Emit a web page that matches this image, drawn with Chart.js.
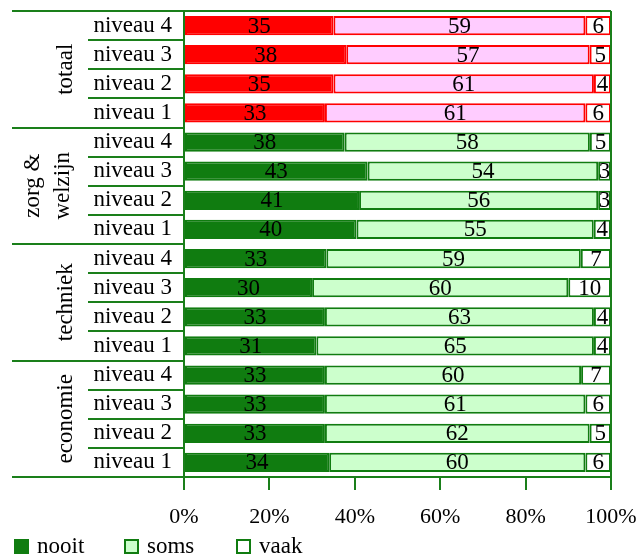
<!DOCTYPE html>
<html>
<head>
<meta charset="utf-8">
<script src="https://cdn.jsdelivr.net/npm/chart.js@4.4.1/dist/chart.umd.min.js"></script>
<style>
  html, body { margin: 0; padding: 0; background: #fff; }
  #wrap { width: 637px; height: 559px; position: relative; }
</style>
</head>
<body>
<div id="wrap"><canvas id="chart"></canvas></div>
<script>
// data
const levels = ["niveau 4", "niveau 3", "niveau 2", "niveau 1",
                "niveau 4", "niveau 3", "niveau 2", "niveau 1",
                "niveau 4", "niveau 3", "niveau 2", "niveau 1",
                "niveau 4", "niveau 3", "niveau 2", "niveau 1"];
const groups = [["totaal"], ["zorg &", "welzijn"], ["techniek"], ["economie"]];
const nooit = [35, 38, 35, 33, 38, 43, 41, 40, 33, 30, 33, 31, 33, 33, 33, 34];
const soms  = [59, 57, 61, 61, 58, 54, 56, 55, 59, 60, 63, 65, 60, 61, 62, 60];
const vaak  = [6, 5, 4, 6, 5, 3, 3, 4, 7, 10, 4, 4, 7, 6, 5, 6];
const seriesNames = ["nooit", "soms", "vaak"];
const xTicks = [0, 20, 40, 60, 80, 100];

const GREEN = "#107c10";
const LINE = "#1a7f1a";
const FONT = "'Liberation Serif', 'Times New Roman', 'DejaVu Serif', serif";

// rows are shown as shares of 100%
const totals = nooit.map((v, i) => v + soms[i] + vaak[i]);
const pct = arr => arr.map((v, i) => v / totals[i] * 100);

const isTotal = i => Math.floor(i / 4) === 0;
const fills = [
  levels.map((_, i) => isTotal(i) ? "#ff0000" : GREEN),
  levels.map((_, i) => isTotal(i) ? "#ffccff" : "#ccffcc"),
  levels.map(() => "#ffffff")
];
const strokes = levels.map((_, i) => isTotal(i) ? "#ff0000" : GREEN);

const raw = [nooit, soms, vaak];

const extras = {
  id: "extras",
  afterDatasetsDraw(chart) {
    const ctx = chart.ctx;
    ctx.save();
    ctx.font = "23px " + FONT;
    ctx.fillStyle = "#000";
    ctx.textAlign = "center";
    ctx.textBaseline = "middle";
    chart.data.datasets.forEach((ds, d) => {
      chart.getDatasetMeta(d).data.forEach((bar, i) => {
        ctx.fillText(String(raw[d][i]), (bar.x + bar.base) / 2, bar.y + 1);
      });
    });
    ctx.restore();
  },
  afterDraw(chart) {
    const ctx = chart.ctx;
    const ya = chart.scales.y;
    const area = chart.chartArea;
    const left = area.left;
    ctx.save();
    ctx.strokeStyle = LINE;
    ctx.lineWidth = 2;
    ctx.beginPath();
    // top border, right border, left part of bottom line
    ctx.moveTo(12, area.top); ctx.lineTo(area.right, area.top);
    ctx.moveTo(area.right, area.top); ctx.lineTo(area.right, area.bottom);
    ctx.moveTo(12, area.bottom); ctx.lineTo(left, area.bottom);
    for (let i = 1; i < levels.length; i++) {
      const y = Math.round((ya.getPixelForValue(i - 1) + ya.getPixelForValue(i)) / 2);
      ctx.moveTo(i % 4 === 0 ? 12 : 88, y);
      ctx.lineTo(left, y);
    }
    ctx.stroke();

    // group labels
    ctx.font = "23px " + FONT;
    ctx.fillStyle = "#000";
    ctx.textAlign = "center";
    ctx.textBaseline = "alphabetic";
    groups.forEach((lines, g) => {
      const yc = (ya.getPixelForValue(g * 4) + ya.getPixelForValue(g * 4 + 3)) / 2;
      const xs = lines.length === 1 ? [72] : [39, 69];
      lines.forEach((t, k) => {
        ctx.save();
        ctx.translate(xs[k], yc);
        ctx.rotate(-Math.PI / 2);
        ctx.fillText(t, 0, 0);
        ctx.restore();
      });
    });

    // legend
    const boxes = [
      { x: 14, fill: GREEN },
      { x: 124, fill: "#ccffcc" },
      { x: 236, fill: "#ffffff" }
    ];
    const ly = 546;
    ctx.textAlign = "left";
    ctx.textBaseline = "middle";
    boxes.forEach((b, k) => {
      ctx.fillStyle = b.fill;
      ctx.fillRect(b.x, ly - 7, 15, 15);
      ctx.strokeStyle = GREEN;
      ctx.lineWidth = 2;
      ctx.strokeRect(b.x + 1, ly - 6, 13, 13);
      ctx.fillStyle = "#000";
      ctx.fillText(seriesNames[k], b.x + 23, ly + 1);
    });
    ctx.restore();
  }
};

new Chart(document.getElementById("chart"), {
  type: "bar",
  data: {
    labels: levels,
    datasets: [pct(nooit), pct(soms), pct(vaak)].map((vals, d) => ({
      label: seriesNames[d],
      data: vals,
      backgroundColor: fills[d],
      borderColor: strokes,
      borderWidth: 2,
      borderSkipped: false,
      categoryPercentage: 1,
      barPercentage: 0.66
    }))
  },
  options: {
    indexAxis: "y",
    responsive: true,
    maintainAspectRatio: false,
    animation: false,
    layout: { padding: { top: 11, left: 0, right: 26, bottom: 30 } },
    plugins: {
      legend: { display: false },
      tooltip: { enabled: false }
    },
    scales: {
      x: {
        stacked: true,
        min: 0,
        max: 100,
        afterBuildTicks: s => { s.ticks = xTicks.map(v => ({ value: v })); },
        ticks: {
          callback: v => v + "%",
          color: "#000",
          font: { family: FONT, size: 22 },
          padding: 14,
          maxRotation: 0
        },
        grid: {
          drawOnChartArea: false,
          drawTicks: true,
          tickLength: 13,
          color: LINE,
          lineWidth: 2
        },
        border: { display: true, color: LINE, width: 2 },
        afterFit: s => { s.height = 52; s.paddingRight = 0; s.paddingLeft = 0; }
      },
      y: {
        stacked: true,
        ticks: {
          color: "#000",
          font: { family: FONT, size: 23 },
          padding: 12,
          autoSkip: false
        },
        grid: { display: false, drawTicks: false },
        border: { display: true, color: LINE, width: 2 },
        afterFit: s => { s.width = 184; s.paddingTop = 0; s.paddingBottom = 0; }
      }
    }
  },
  plugins: [extras]
});
</script>
</body>
</html>
